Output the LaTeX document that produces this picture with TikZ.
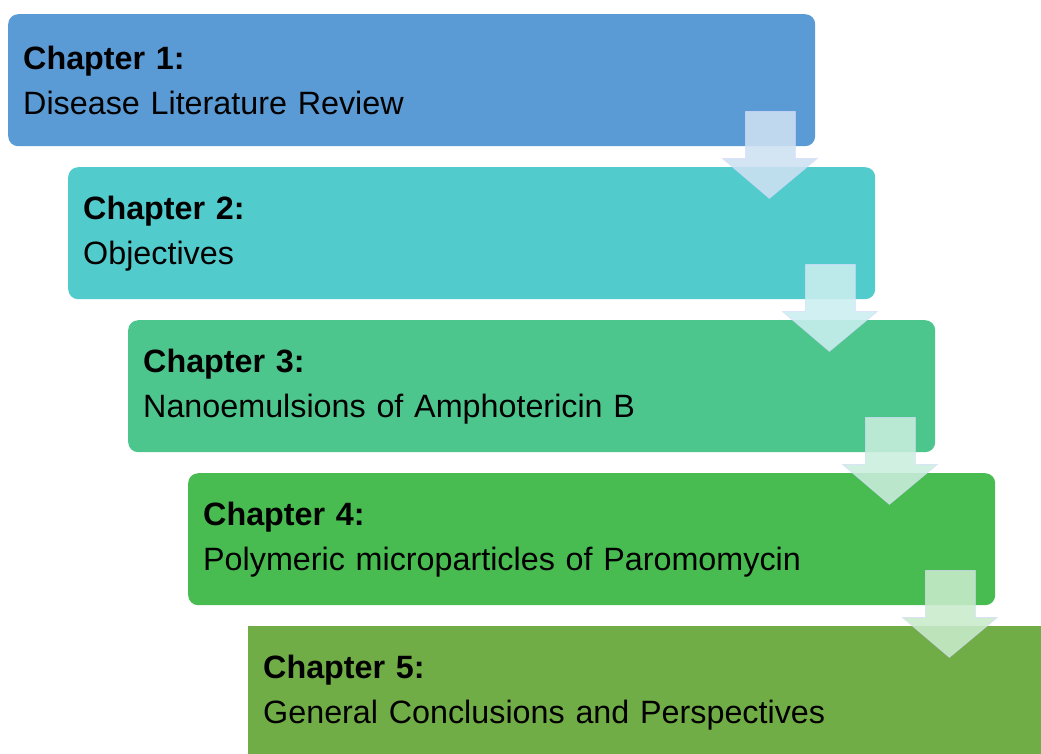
\documentclass[tikz,border=0pt]{standalone}
\usepackage{fontspec}
\setmainfont{Liberation Sans}
\usetikzlibrary{calc}
\usepackage{xcolor}
\definecolor{chapBlue}{RGB}{91,155,213}
\definecolor{chapTeal}{RGB}{82,203,205}
\definecolor{chapSea}{RGB}{77,198,142}
\definecolor{chapGreen}{RGB}{72,188,80}
\definecolor{chapOlive}{RGB}{112,173,71}

\begin{document}
\begin{tikzpicture}[x=1pt, y=-1pt,
    chapbox/.style={rectangle, rounded corners=10pt, anchor=north west,
        minimum width=807pt, minimum height=132pt, text width=777pt,
        inner xsep=15pt, align=left, font=\fontsize{32.3}{45}\selectfont},
    downarrow/.style={fill=#1!30!white, fill opacity=0.88,
        draw=white!85!blue, draw opacity=0.6, line width=0.8pt}]
    \newcommand\dx{60}
    \newcommand\dy{153}

    \clip (0,0) rectangle (1041,753);
    \fill[white] (0,0) rectangle (1041,753);

    % chapter boxes
    \node[chapbox, fill=chapBlue]  (ch1) at (8,14)             {\textbf{Chapter 1:}\\Disease Literature Review};
    \node[chapbox, fill=chapTeal]  (ch2) at (8+\dx,14+\dy)     {\textbf{Chapter 2:}\\Objectives};
    \node[chapbox, fill=chapSea]   (ch3) at (8+2*\dx,14+2*\dy) {\textbf{Chapter 3:}\\Nanoemulsions of Amphotericin B};
    \node[chapbox, fill=chapGreen] (ch4) at (8+3*\dx,14+3*\dy) {\textbf{Chapter 4:}\\Polymeric microparticles of Paromomycin};
    \node[chapbox, fill=chapOlive, rounded corners=0pt] (ch5) at (8+4*\dx,14+4*\dy) {\textbf{Chapter 5:}\\General Conclusions and Perspectives};

    % draw arrow
    \foreach \a/\b/\c in {ch1/ch2/chapBlue, ch2/ch3/chapTeal, ch3/ch4/chapSea, ch4/ch5/chapGreen}
        \draw[downarrow=\c] ([shift={(-70,-35)}]\a.south east) -- ([shift={(-20,-35)}]\a.south east)
            -- ([shift={(-20,12)}]\a.south east) -- ([shift={(2,12)}]\a.south east)
            -- ([shift={(-46,52)}]\a.south east) -- ([shift={(-93,12)}]\a.south east)
            -- ([shift={(-70,12)}]\a.south east) -- cycle;
\end{tikzpicture}
\end{document}
